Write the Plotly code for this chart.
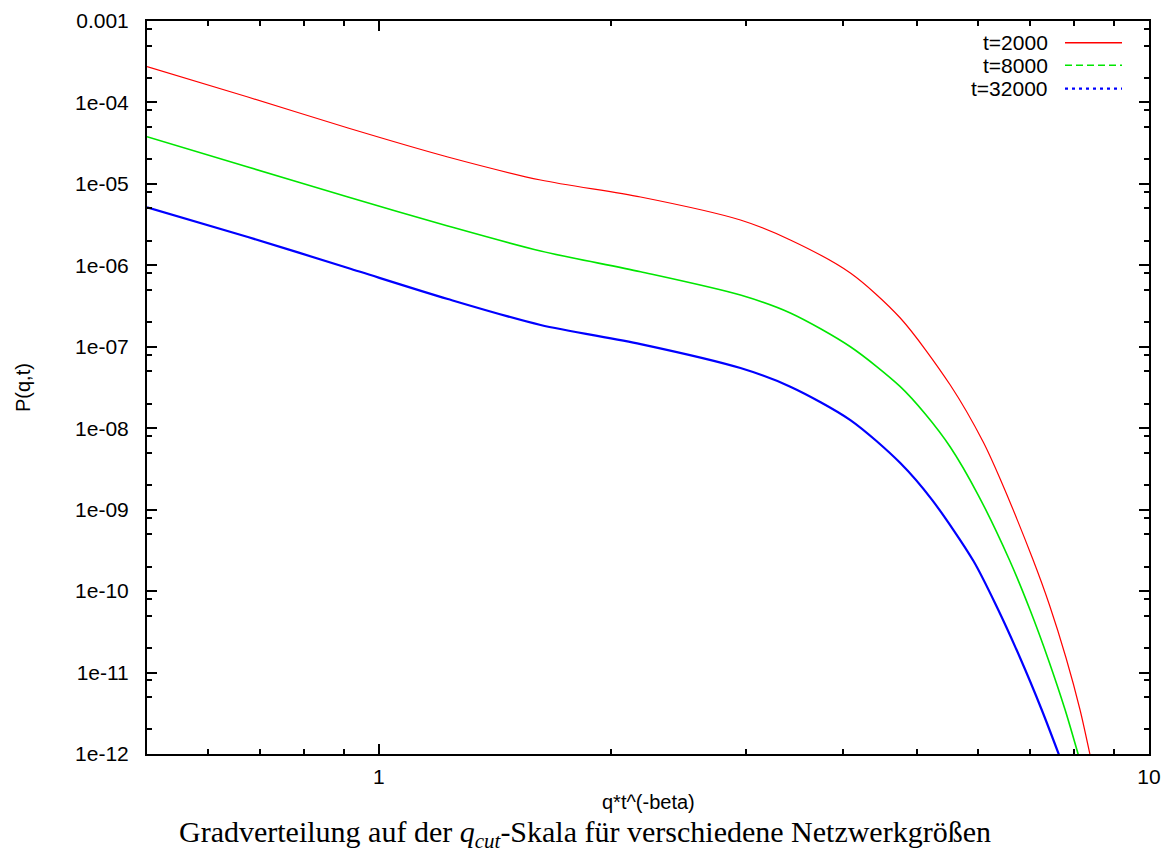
import math
import plotly.graph_objects as go

# ---- data ----
series_names = ["t=2000", "t=8000", "t=32000"]

x_t2000 = [0.50, 0.676, 0.912, 1.229, 1.622, 2.187, 2.948, 3.422, 4.095, 4.754,
           5.520, 6.092, 6.409, 7.064, 7.426, 7.804, 8.138, 8.385]
y_t2000 = [2.75e-4, 1.166e-4, 4.85e-5, 2.138e-5, 1.116e-5, 6.90e-6, 3.60e-6, 2.05e-6,
           8.05e-7, 2.255e-7, 3.39e-8, 6.77e-9, 2.378e-9, 2.476e-10, 6.75e-11, 1.508e-11,
           3.47e-12, 9.7e-13]

x_t8000 = [0.50, 0.676, 0.912, 1.229, 1.622, 2.187, 2.948, 3.422, 4.095, 4.754,
           5.123, 5.520, 6.001, 6.589, 7.008, 7.404, 7.783, 8.097]
y_t8000 = [3.79e-5, 1.612e-5, 6.90e-6, 3.04e-6, 1.499e-6, 8.35e-7, 4.32e-7, 2.60e-7,
           1.0e-7, 3.24e-8, 1.494e-8, 5.88e-9, 1.513e-9, 2.41e-10, 5.86e-11, 1.43e-11,
           3.47e-12, 9.7e-13]

x_t32000 = [0.50, 0.676, 0.912, 1.229, 1.622, 2.187, 2.948, 3.422, 4.095, 4.754,
            5.231, 5.917, 6.346, 6.803, 7.258, 7.643]
y_t32000 = [5.16e-6, 2.227e-6, 9.27e-7, 3.858e-7, 1.85e-7, 1.08e-7, 5.48e-8, 3.24e-8,
            1.26e-8, 3.74e-9, 1.31e-9, 2.341e-10, 6.375e-11, 1.508e-11, 3.47e-12, 9.7e-13]

x_tickvals = [1, 10]
x_ticktext = ["1", "10"]
y_tickvals = [1e-3, 1e-4, 1e-5, 1e-6, 1e-7, 1e-8, 1e-9, 1e-10, 1e-11, 1e-12]
y_ticktext = ["0.001", "1e-04", "1e-05", "1e-06", "1e-07", "1e-08",
              "1e-09", "1e-10", "1e-11", "1e-12"]
x_minor = [0.6, 0.7, 0.8, 0.9, 2, 3, 4, 5, 6, 7, 8, 9]
y_minor_mult = [2, 5, 8]

x_title = "q*t^(-beta)"
y_title = "P(q,t)"
caption = ("Gradverteilung auf der <i>q</i><sub><i>cut</i></sub>-Skala "
           "für verschiedene Netzwerkgrößen")

# ---- style ----
colors = ["#ff0000", "#00e600", "#0000ff"]
widths = [1.2, 1.6, 2.2]
dashes = ["solid", "7px,4px", "3px,4px"]
FONT = "Liberation Sans, Arial, sans-serif"

# The page body has an 8px default margin: size the figure so it ends at 1169x855.
OFF = 8
W, H = 1169 - OFF, 855 - OFF
PLOT_L, PLOT_R, PLOT_T, PLOT_B = 147, 1149, 21, 754   # plot area in page pixels
L, T = PLOT_L - OFF, PLOT_T - OFF
R, B = 1169 - PLOT_R, 855 - PLOT_B

fig = go.Figure()
for name, xs, ys, c, w in zip(series_names, [x_t2000, x_t8000, x_t32000],
                              [y_t2000, y_t8000, y_t32000], colors, widths):
    fig.add_trace(go.Scatter(x=xs, y=ys, mode="lines", name=name,
                             line=dict(color=c, width=w, shape="spline", smoothing=0.8),
                             showlegend=False, cliponaxis=True))

y_minor = [m * 10.0 ** d for d in range(-12, -3) for m in y_minor_mult]

axis_common = dict(
    type="log", showline=True, linecolor="black", linewidth=2, mirror="ticks",
    ticks="inside", ticklen=10, tickwidth=1.5, tickcolor="black",
    showgrid=False, zeroline=False, automargin=False,
    tickfont=dict(family=FONT, size=21, color="black"),
)

fig.update_xaxes(**axis_common, range=[math.log10(0.5), 1],
                 tickmode="array", tickvals=x_tickvals, ticktext=x_ticktext,
                 ticklabelstandoff=3,
                 minor=dict(tickmode="array", tickvals=x_minor, ticks="inside",
                            ticklen=5, tickwidth=1.5, tickcolor="black", showgrid=False))
fig.update_yaxes(**axis_common, range=[-12, -3],
                 tickmode="array", tickvals=y_tickvals, ticktext=y_ticktext,
                 ticklabelstandoff=12,
                 minor=dict(tickmode="array", tickvals=y_minor, ticks="inside",
                            ticklen=5, tickwidth=1.5, tickcolor="black", showgrid=False))

pw, ph = PLOT_R - PLOT_L, PLOT_B - PLOT_T


def px2paper(px, py):
    return (px - PLOT_L) / pw, (PLOT_B - py) / ph


annotations = []
shapes = []

# axis titles and caption
ax, ay = px2paper(648, 802)
annotations.append(dict(x=ax, y=ay, xref="paper", yref="paper", text=x_title,
                        showarrow=False, xanchor="center", yanchor="middle",
                        font=dict(family=FONT, size=20, color="black")))
ax, ay = px2paper(23, 388)
annotations.append(dict(x=ax, y=ay, xref="paper", yref="paper", text=y_title,
                        showarrow=False, xanchor="center", yanchor="middle",
                        textangle=-90,
                        font=dict(family=FONT, size=20, color="black")))
ax, ay = px2paper(584.5, 834)
annotations.append(dict(x=ax, y=ay, xref="paper", yref="paper", text=caption,
                        showarrow=False, xanchor="center", yanchor="middle",
                        font=dict(family="Liberation Serif, Times New Roman, serif",
                                  size=30, color="black")))

# legend (gnuplot style: text on the left, sample on the right)
legend_rows = [42.7, 65.3, 88.7]
for name, c, w, d, py in zip(series_names, colors, widths, dashes, legend_rows):
    tx, ty = px2paper(1050, py)
    annotations.append(dict(x=tx, y=ty, xref="paper", yref="paper", text=name,
                            showarrow=False, xanchor="right", yanchor="middle",
                            font=dict(family=FONT, size=21, color="black")))
    x0, y0 = px2paper(1065, py)
    x1, _ = px2paper(1122, py)
    shapes.append(dict(type="line", xref="paper", yref="paper", x0=x0, x1=x1,
                       y0=y0, y1=y0, line=dict(color=c, width=max(w, 1.5), dash=d)))

fig.update_layout(
    width=W, height=H, autosize=False,
    margin=dict(l=L, r=R, t=T, b=B, pad=0),
    paper_bgcolor="white", plot_bgcolor="white",
    annotations=annotations, shapes=shapes, showlegend=False,
)

fig.write_html("out.html")
